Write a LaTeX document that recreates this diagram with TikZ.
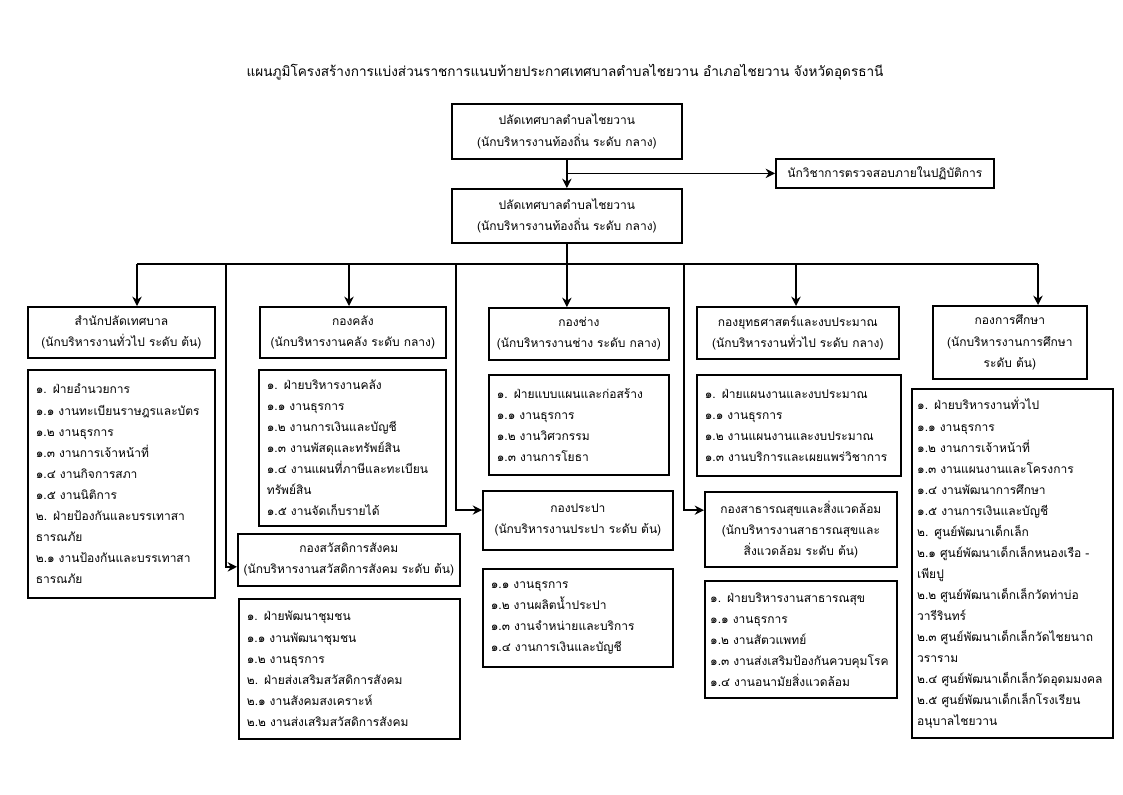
\documentclass[tikz,border=0pt]{standalone}
\usepackage{fontspec}
\newfontfamily\thaifont[Script=Thai]{Loma}
\usetikzlibrary{arrows.meta,calc}
\begin{document}
\begin{tikzpicture}[x=0.75pt,y=-0.75pt,
  font=\thaifont\fontsize{9pt}{15.8pt}\selectfont,
  box/.style={draw, line width=1.3pt, inner sep=2pt, align=center, anchor=north west},
  lst/.style={draw, line width=1.3pt, inner xsep=6pt, inner ysep=2pt, align=left, anchor=north west, text width=#1},
  arr/.style={line width=1.3pt, -{Stealth[length=7pt,width=7pt]}},
  ln/.style={line width=1.3pt}]
\useasboundingbox (0,0) rectangle (1123,794);

\node[font=\thaifont\fontsize{10.2pt}{14pt}\selectfont] (title) at (565,72) {แผนภูมิโครงสร้างการแบ่งส่วนราชการแนบท้ายประกาศเทศบาลตำบลไชยวาน อำเภอไชยวาน จังหวัดอุดรธานี};

\node[box, minimum width=172.5pt, minimum height=41.25pt] (n0) at (451,103) {ปลัดเทศบาลตำบลไชยวาน\\(นักบริหารงานท้องถิ่น ระดับ กลาง)};
\node[box, minimum width=163.5pt, minimum height=21.75pt] (aud) at (775,158) {นักวิชาการตรวจสอบภายในปฏิบัติการ};
\node[box, minimum width=172.5pt, minimum height=40.5pt] (n1) at (451,188) {ปลัดเทศบาลตำบลไชยวาน\\(นักบริหารงานท้องถิ่น ระดับ กลาง)};

% first row headers
\node[box, minimum width=140.25pt, minimum height=38.25pt] (b1) at (27,306) {สำนักปลัดเทศบาล\\(นักบริหารงานทั่วไป ระดับ ต้น)};
\node[box, minimum width=139.5pt, minimum height=38.25pt] (b2) at (259,306) {กองคลัง\\(นักบริหารงานคลัง ระดับ กลาง)};
\node[box, minimum width=135pt, minimum height=39pt] (b3) at (488,307) {กองช่าง\\(นักบริหารงานช่าง ระดับ กลาง)};
\node[box, minimum width=151.5pt, minimum height=39pt] (b4) at (696,306) {กองยุทธศาสตร์และงบประมาณ\\(นักบริหารงานทั่วไป ระดับ กลาง)};
\node[box, minimum width=115.5pt, minimum height=54.75pt] (b5) at (932,305) {กองการศึกษา\\(นักบริหารงานการศึกษา\\ระดับ ต้น)};

% lists and second-row headers
\node[lst=128.25pt, minimum height=171pt] (l1) at (27,369) {๑. ฝ่ายอำนวยการ\\๑.๑~งานทะเบียนราษฎรและบัตร\\๑.๒~งานธุรการ\\๑.๓~งานการเจ้าหน้าที่\\๑.๔~งานกิจการสภา\\๑.๕~งานนิติการ\\๒. ฝ่ายป้องกันและบรรเทาสา\\ธารณภัย\\๒.๑~งานป้องกันและบรรเทาสา\\ธารณภัย};
\node[lst=128.25pt, minimum height=117pt] (l2) at (258,369) {๑. ฝ่ายบริหารงานคลัง\\๑.๑~งานธุรการ\\๑.๒~งานการเงินและบัญชี\\๑.๓~งานพัสดุและทรัพย์สิน\\๑.๔~งานแผนที่ภาษีและทะเบียน\\ทรัพย์สิน\\๑.๕~งานจัดเก็บรายได้};
\node[box, minimum width=166.5pt, minimum height=39pt] (b2b) at (237,533) {กองสวัสดิการสังคม\\(นักบริหารงานสวัสดิการสังคม ระดับ ต้น)};
\node[lst=153.75pt, minimum height=105pt] (l2b) at (238,598) {๑. ฝ่ายพัฒนาชุมชน\\๑.๑~งานพัฒนาชุมชน\\๑.๒~งานธุรการ\\๒. ฝ่ายส่งเสริมสวัสดิการสังคม\\๒.๑~งานสังคมสงเคราะห์\\๒.๒~งานส่งเสริมสวัสดิการสังคม};
\node[lst=123pt, minimum height=75pt] (l3) at (488,374) {๑. ฝ่ายแบบแผนและก่อสร้าง\\๑.๑~งานธุรการ\\๑.๒~งานวิศวกรรม\\๑.๓~งานการโยธา};
\node[box, minimum width=142.5pt, minimum height=44.25pt] (b3b) at (482,490) {กองประปา\\(นักบริหารงานประปา ระดับ ต้น)};
\node[lst=130.5pt, minimum height=73.5pt] (l3b) at (482,568) {๑.๑~งานธุรการ\\๑.๒~งานผลิตน้ำประปา\\๑.๓~งานจำหน่ายและบริการ\\๑.๔~งานการเงินและบัญชี};
\node[lst=141pt, minimum height=75.75pt] (l4) at (696,374) {๑. ฝ่ายแผนงานและงบประมาณ\\๑.๑~งานธุรการ\\๑.๒~งานแผนงานและงบประมาณ\\๑.๓~งานบริการและเผยแพร่วิชาการ};
\node[box, minimum width=144pt, minimum height=56.25pt] (b4b) at (704,491) {กองสาธารณสุขและสิ่งแวดล้อม\\(นักบริหารงานสาธารณสุขและ\\สิ่งแวดล้อม ระดับ ต้น)};
\node[lst=136pt, inner xsep=4pt, minimum height=87.75pt] (l4b) at (704,580) {๑. ฝ่ายบริหารงานสาธารณสุข\\๑.๑~งานธุรการ\\๑.๒~งานสัตวแพทย์\\๑.๓~งานส่งเสริมป้องกันควบคุมโรค\\๑.๔~งานอนามัยสิ่งแวดล้อม};
\node[lst=142.75pt, inner xsep=4pt, minimum height=261.75pt] (l5) at (911,388) {๑. ฝ่ายบริหารงานทั่วไป\\๑.๑~งานธุรการ\\๑.๒~งานการเจ้าหน้าที่\\๑.๓~งานแผนงานและโครงการ\\๑.๔~งานพัฒนาการศึกษา\\๑.๕~งานการเงินและบัญชี\\๒. ศูนย์พัฒนาเด็กเล็ก\\๒.๑~ศูนย์พัฒนาเด็กเล็กหนองเรือ -\\เพียปู\\๒.๒~ศูนย์พัฒนาเด็กเล็กวัดท่าบ่อ\\วารีรินทร์\\๒.๓~ศูนย์พัฒนาเด็กเล็กวัดไชยนาถ\\วราราม\\๒.๔~ศูนย์พัฒนาเด็กเล็กวัดอุดมมงคล\\๒.๕~ศูนย์พัฒนาเด็กเล็กโรงเรียน\\อนุบาลไชยวาน};

% connectors
\draw[arr] (n0.south) -- (n1.north);
\draw[arr] (n0.south |- aud.west) -- (aud.west);

\coordinate (busL) at (137,264);
\coordinate (busR) at (1038,264);
\coordinate (t2) at (349,264);
\coordinate (t4) at (796,264);
\coordinate (v1) at (226,264);
\coordinate (v2) at (456,264);
\coordinate (v3) at (684,264);

\draw[ln] (busL) -- (busR);
\draw[arr] (n1.south) -- (n1.south |- b3.north);
\draw[arr] (busL) -- (busL |- b1.north);
\draw[arr] (t2) -- (t2 |- b2.north);
\draw[arr] (t4) -- (t4 |- b4.north);
\draw[arr] (busR) -- (busR |- b5.north);
\draw[arr] (v1) |- ($(b2b.north west)!0.63!(b2b.south west)$);
\draw[arr] (v2) |- ($(b3b.north west)!0.33!(b3b.south west)$);
\draw[arr] (v3) |- ($(b4b.north west)!0.25!(b4b.south west)$);
\end{tikzpicture}
\end{document}
